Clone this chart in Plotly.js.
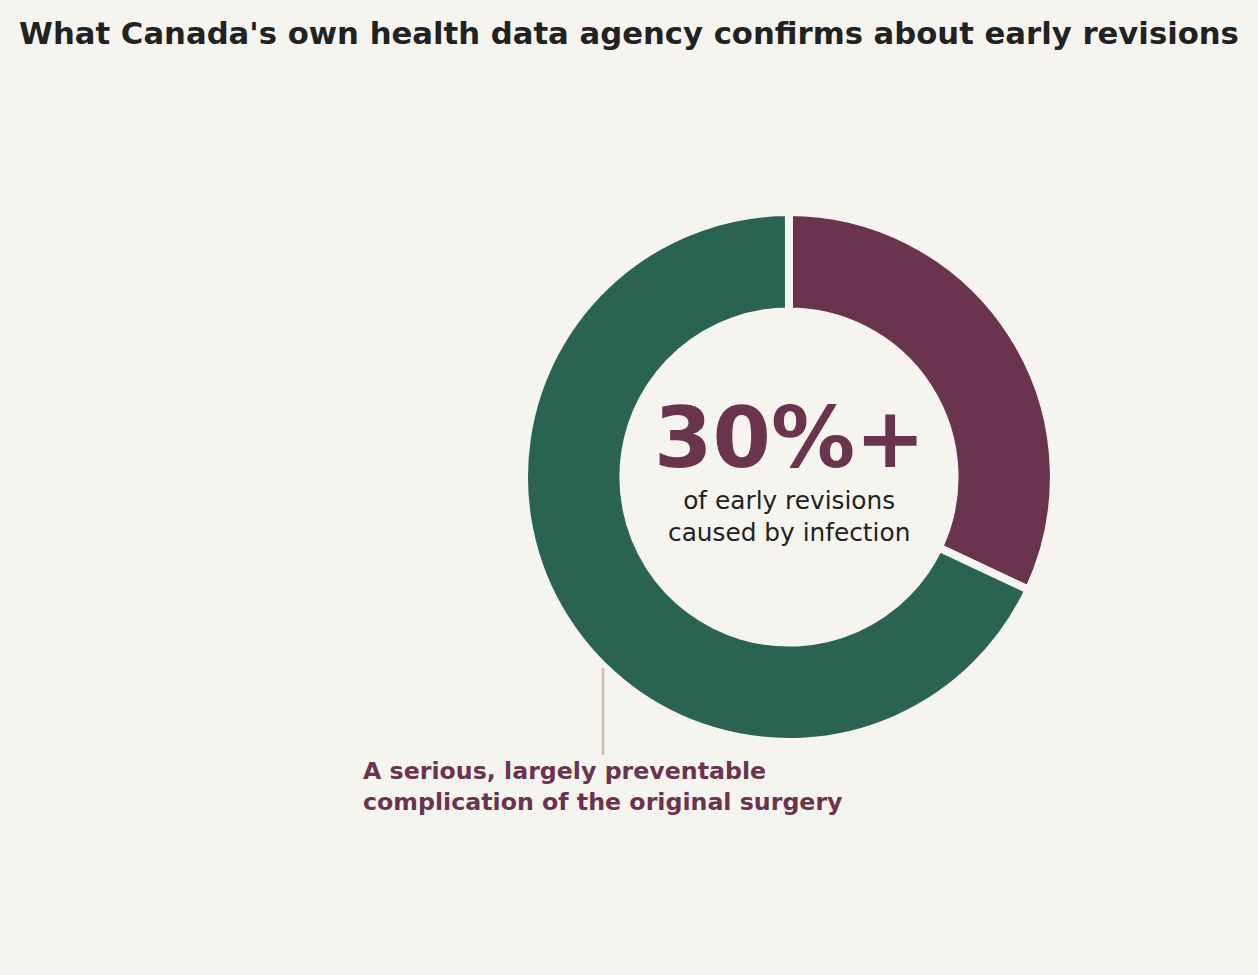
<!DOCTYPE html>
<html>
<head>
<meta charset="utf-8">
<script src="https://cdn.plot.ly/plotly-3.0.1.min.js"></script>
<style>
  html, body { margin: 0; padding: 0; background: #f5f4ef; }
  #chart { width: 1258px; height: 975px; }
</style>
</head>
<body>
<div id="chart"></div>
<script>
// revision causes (share of early revisions)
const labels = ["Infection", "Other causes"];
const shares = [32, 68];
const colors = ["#6b344e", "#2a6352"];

const BG = "#f5f4ef";
const FONT = "DejaVu Sans, sans-serif";

const trace = {
    type: "pie",
    labels: labels,
    values: shares,
    hole: 0.625,
    sort: false,
    direction: "clockwise",
    rotation: 0,
    textinfo: "none",
    hoverinfo: "label+percent",
    marker: { colors: colors, line: { color: BG, width: 8 } },
    domain: { x: [0.4165, 0.8378], y: [0.239, 0.7825] },
    showlegend: false
};

const layout = {
    width: 1258,
    height: 975,
    margin: { l: 0, r: 0, t: 0, b: 0 },
    paper_bgcolor: BG,
    plot_bgcolor: BG,
    font: { family: FONT, color: "#222222" },
    title: {
        text: "<b>What Canada's own health data agency confirms about early revisions</b>",
        font: { family: FONT, size: 30.7, color: "#222222" },
        x: 0.5, xanchor: "center",
        y: 0.966, yanchor: "middle"
    },
    annotations: [
        {
            text: "<b>30%+</b>",
            x: 789 / 1258, y: 1 - 438 / 975, xref: "paper", yref: "paper",
            xanchor: "center", yanchor: "middle", showarrow: false,
            font: { family: FONT, size: 84, color: "#6b344e" }
        },
        {
            text: "of early revisions<br>caused by infection",
            x: 789 / 1258, y: 1 - 516 / 975, xref: "paper", yref: "paper",
            xanchor: "center", yanchor: "middle", showarrow: false,
            font: { family: FONT, size: 24.8, color: "#222222" }
        },
        {
            text: "<b>A serious, largely preventable<br>complication of the original surgery</b>",
            x: 603 / 1258, y: 1 - 668 / 975, xref: "paper", yref: "paper",
            ax: 0, ay: 118, axref: "pixel", ayref: "pixel",
            showarrow: true, arrowhead: 0, arrowwidth: 2.5, arrowcolor: "#c9c1ab",
            standoff: 0,
            align: "left",
            font: { family: FONT, size: 23.7, color: "#6b344e" }
        }
    ]
};

Plotly.newPlot("chart", [trace], layout, { displayModeBar: false });
</script>
</body>
</html>
